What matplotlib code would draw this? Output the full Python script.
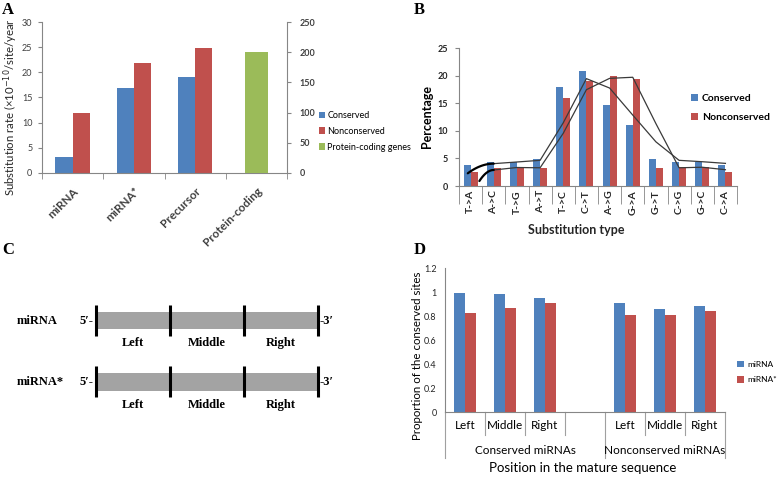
import numpy as np
import matplotlib
matplotlib.use("Agg")
import matplotlib.pyplot as plt
from matplotlib.patches import Rectangle
import matplotlib.transforms as mtransforms

plt.rcParams['font.family'] = ['Lato', 'DejaVu Sans']

BLUE = '#4F81BD'
RED = '#C0504D'
GREEN = '#9BBB59'
SPINE = '#868686'
TXT = '#262626'

# ---------------- data ----------------
# Panel A
a_categories = ['miRNA', 'miRNA*', 'Precursor', 'Protein-coding']
a_conserved = [3.2, 16.9, 19.0]
a_nonconserved = [11.9, 21.9, 24.9]
a_protein_coding = [200]          # secondary axis
a_left_ticks = [0, 5, 10, 15, 20, 25, 30]
a_right_ticks = [0, 50, 100, 150, 200, 250]

# Panel B
b_types = ['T->A', 'A->C', 'T->G', 'A->T', 'T->C', 'C->T', 'A->G', 'G->A',
           'G->T', 'C->G', 'G->C', 'C->A']
b_conserved = [3.8, 4.3, 4.4, 4.9, 18.0, 20.9, 14.6, 11.1, 4.9, 4.4, 4.4, 3.8]
b_nonconserved = [2.5, 3.3, 3.4, 3.2, 15.9, 19.0, 20.0, 19.4, 3.2, 3.4, 3.4, 2.5]
b_trend_start_x = [-0.12, 0.38]      # hand-drawn lead-in curves (conserved, nonconserved)
b_trend_start_y = [2.3, 0.9]
b_ticks = [0, 5, 10, 15, 20, 25]

# Panel C
c_rows = ['miRNA', 'miRNA*']
c_segments = ['Left', 'Middle', 'Right']

# Panel D
d_positions = ['Left', 'Middle', 'Right']
d_groups = ['Conserved miRNAs', 'Nonconserved miRNAs']
d_mirna = [0.99, 0.985, 0.95, 0.91, 0.86, 0.885]
d_mirna_star = [0.825, 0.865, 0.91, 0.81, 0.81, 0.845]
d_ticks = [0, 0.2, 0.4, 0.6, 0.8, 1, 1.2]
d_ticklabels = ['0', '0.2', '0.4', '0.6', '0.8', '1', '1.2']

# ---------------- figure ----------------
W, H = 778, 478
fig = plt.figure(figsize=(W / 100, H / 100), dpi=100)


def rect(x0, y0, x1, y1):
    return [x0 / W, 1 - y1 / H, (x1 - x0) / W, (y1 - y0) / H]


def fx(px):
    return px / W


def fy(py):
    return 1 - py / H


def style_axes(ax):
    ax.spines['top'].set_visible(False)
    for s in ['left', 'bottom', 'right']:
        ax.spines[s].set_color(SPINE)
        ax.spines[s].set_linewidth(0.8)


serif_bold = dict(family=['Liberation Serif', 'DejaVu Serif'], fontweight='bold')

# ---------------- Panel A ----------------
axA = fig.add_axes(rect(42, 22, 287, 173))
style_axes(axA)
axA.spines['right'].set_visible(False)
xa = np.arange(len(a_categories))
bw = 0.28
axA.bar(xa[:3] - bw / 2, a_conserved, bw, color=BLUE, label='Conserved', zorder=2)
axA.bar(xa[:3] + bw / 2, a_nonconserved, bw, color=RED, label='Nonconserved', zorder=2)
axA.set_xlim(-0.5, 3.5)
axA.set_ylim(0, 30)
axA.set_yticks(a_left_ticks)
axA.tick_params(axis='y', length=3, color=SPINE, labelsize=6.5, labelcolor='#404040', pad=4)
axA.set_xticks(xa)
axA.set_xticklabels(a_categories, rotation=45, ha='right', va='top',
                    rotation_mode='anchor', fontsize=8.5, fontweight='bold', color='#404040')
axA.tick_params(axis='x', length=0, pad=9)
axA.set_xticks(np.arange(-0.5, 4.0, 1), minor=True)
axA.tick_params(axis='x', which='minor', length=4, color=SPINE)
axA.set_ylabel('Substitution rate (\u00d710$^{-10}$/site/year', fontsize=8.2, color=TXT)
axA.yaxis.set_label_coords(-0.088, 0.435)

axA2 = axA.twinx()
axA2.spines['top'].set_visible(False)
axA2.spines['left'].set_visible(False)
axA2.spines['bottom'].set_visible(False)
axA2.spines['right'].set_color(SPINE)
axA2.spines['right'].set_linewidth(0.8)
axA2.bar(xa[3:], a_protein_coding, 0.38, color=GREEN, label='Protein-coding genes', zorder=2)
axA2.set_ylim(0, 250)
axA2.set_yticks(a_right_ticks)
axA2.tick_params(axis='y', length=3, color=SPINE, labelsize=6.5, labelcolor='#404040', pad=6)
for lbl in axA2.get_yticklabels():
    lbl.set_fontweight('bold')

hA = [axA.patches[0], axA.patches[3], axA2.patches[0]]
fig.legend(hA, ['Conserved', 'Nonconserved', 'Protein-coding genes'],
           loc='upper left', bbox_to_anchor=(fx(319), fy(111)), frameon=False,
           fontsize=6.5, handlelength=0.7, handleheight=0.7, handletextpad=0.2,
           labelspacing=0.75, borderaxespad=0, borderpad=0)

# ---------------- Panel B ----------------
axB = fig.add_axes(rect(459, 48, 737, 186))
style_axes(axB)
axB.spines['right'].set_visible(False)
xb = np.arange(len(b_types))
bwb = 0.3
axB.bar(xb - bwb / 2, b_conserved, bwb, color=BLUE, label='Conserved', zorder=2)
axB.bar(xb + bwb / 2, b_nonconserved, bwb, color=RED, label='Nonconserved', zorder=2)
# 2-period moving-average trendlines
for vals in (b_conserved, b_nonconserved):
    ma = np.convolve(vals, [0.5, 0.5], mode='valid')
    axB.plot(xb[1:], ma, color='#3a3a3a', lw=0.9, zorder=3)
for i, vals in enumerate((b_conserved, b_nonconserved)):
    ma1 = (vals[0] + vals[1]) / 2
    t = np.linspace(0, 1, 30)
    x0, y0 = b_trend_start_x[i], b_trend_start_y[i]
    xs = x0 + t * (1 - x0)
    ys = y0 + (ma1 - y0) * (1 - (1 - t) ** 2)
    axB.plot(xs, ys, color='black', lw=1.6, zorder=3, solid_capstyle='round')
axB.set_xlim(-0.5, 11.5)
axB.set_ylim(0, 25)
axB.set_yticks(b_ticks)
axB.tick_params(axis='y', length=3, color=SPINE, labelsize=6.5, labelcolor='#262626', pad=5)
for lbl in axB.get_yticklabels():
    lbl.set_fontweight('bold')
axB.set_xticks(xb)
axB.set_xticklabels(b_types, rotation=90, fontsize=7.5, fontweight='bold', color='#262626')
axB.tick_params(axis='x', length=0, pad=3)
axB.set_xticks(np.arange(-0.5, 12.0, 1), minor=True)
axB.tick_params(axis='x', which='minor', length=13, color=SPINE)
axB.set_ylabel('Percentage', fontsize=9, fontweight='bold', color='black')
axB.yaxis.set_label_coords(-0.095, 0.5)
axB.set_xlabel('Substitution type', fontsize=9, fontweight='bold', color='#262626')
axB.xaxis.set_label_coords(0.42, -0.275)
fig.legend(axB.patches[:1] + axB.patches[12:13], ['Conserved', 'Nonconserved'],
           loc='upper left', bbox_to_anchor=(fx(691), fy(94)), frameon=False,
           prop=dict(size=7.5, weight='bold'), handlelength=0.7, handleheight=0.7,
           handletextpad=0.35, labelspacing=0.9, borderaxespad=0, borderpad=0)

# ---------------- Panel C ----------------
axC = fig.add_axes(rect(0, 240, 390, 478))
axC.axis('off')
px_per_x = 74.0
px_per_y = 61.5
axC.set_xlim(-96 / px_per_x, (390 - 96) / px_per_x)
axC.set_ylim((478 - 320.5) / px_per_y, -(320.5 - 240) / px_per_y)
nseg = len(c_segments)
for r, row in enumerate(c_rows):
    axC.add_patch(Rectangle((0, r - 0.14), nseg, 0.28, facecolor='#a3a3a3',
                            edgecolor='none', zorder=1))
    for b in range(nseg + 1):
        axC.plot([b, b], [r - 0.26, r + 0.25], color='black', lw=2.2,
                 solid_capstyle='butt', zorder=2)
    axC.text(-1.07, r, row, ha='left', va='center', fontsize=9, **serif_bold)
    axC.text(-0.03, r, "5\u2032-", ha='right', va='center', fontsize=9, **serif_bold)
    axC.text(nseg + 0.02, r, "-3\u2032", ha='left', va='center', fontsize=9, **serif_bold)
    for s, seg in enumerate(c_segments):
        axC.text(s + 0.5, r + 0.37, seg, ha='center', va='center', fontsize=9, **serif_bold)

# ---------------- Panel D ----------------
axD = fig.add_axes(rect(445, 268, 725, 412))
style_axes(axD)
axD.spines['right'].set_visible(False)
xd = np.array([0, 1, 2, 4, 5, 6])
bwd = 0.28
axD.bar(xd - bwd / 2, d_mirna, bwd, color=BLUE, label='miRNA', zorder=2)
axD.bar(xd + bwd / 2, d_mirna_star, bwd, color=RED, label='miRNA*', zorder=2)
axD.set_xlim(-0.5, 6.5)
axD.set_ylim(0, 1.2)
axD.set_yticks(d_ticks)
axD.set_yticklabels(d_ticklabels)
axD.tick_params(axis='y', length=0, labelsize=6.5, labelcolor='#262626', pad=6)
axD.set_xticks(xd)
axD.set_xticklabels(d_positions * 2, fontsize=8.5, color='black')
axD.tick_params(axis='x', length=0, pad=6)
trD = mtransforms.blended_transform_factory(axD.transData, axD.transAxes)
bounds = np.arange(-0.5, 7.0, 1)
outer = [-0.5, 3.5, 6.5]
for b in bounds:
    low = -0.32 if b in outer else -0.16
    axD.plot([b, b], [0, low], color='#a0a0a0', lw=0.8, transform=trD, clip_on=False)
for g, grp in enumerate(d_groups):
    axD.text(1.5 + g * 3.5, -0.27, grp, transform=trD, ha='center', va='center',
             fontsize=8.5, color='black')
axD.set_xlabel('Position in the mature sequence', fontsize=9.5, color='black')
axD.xaxis.set_label_coords(0.49, -0.345)
axD.set_ylabel('Proportion of the conserved sites', fontsize=8.3, color='black')
axD.yaxis.set_label_coords(-0.078, 0.39)
fig.legend(axD.patches[:1] + axD.patches[6:7], ['miRNA', 'miRNA*'],
           loc='upper left', bbox_to_anchor=(fx(737), fy(361)), frameon=False,
           fontsize=6, handlelength=0.8, handleheight=0.8, handletextpad=0.4,
           labelspacing=1.0, borderaxespad=0, borderpad=0)

# ---------------- Panel labels ----------------
for lab, (px, py) in zip(['A', 'B', 'C', 'D'], [(2, 2), (414, 2), (2, 242), (414, 242)]):
    fig.text(fx(px), fy(py), lab, ha='left', va='top', fontsize=12, **serif_bold)

fig.savefig('out.png', dpi=100)
